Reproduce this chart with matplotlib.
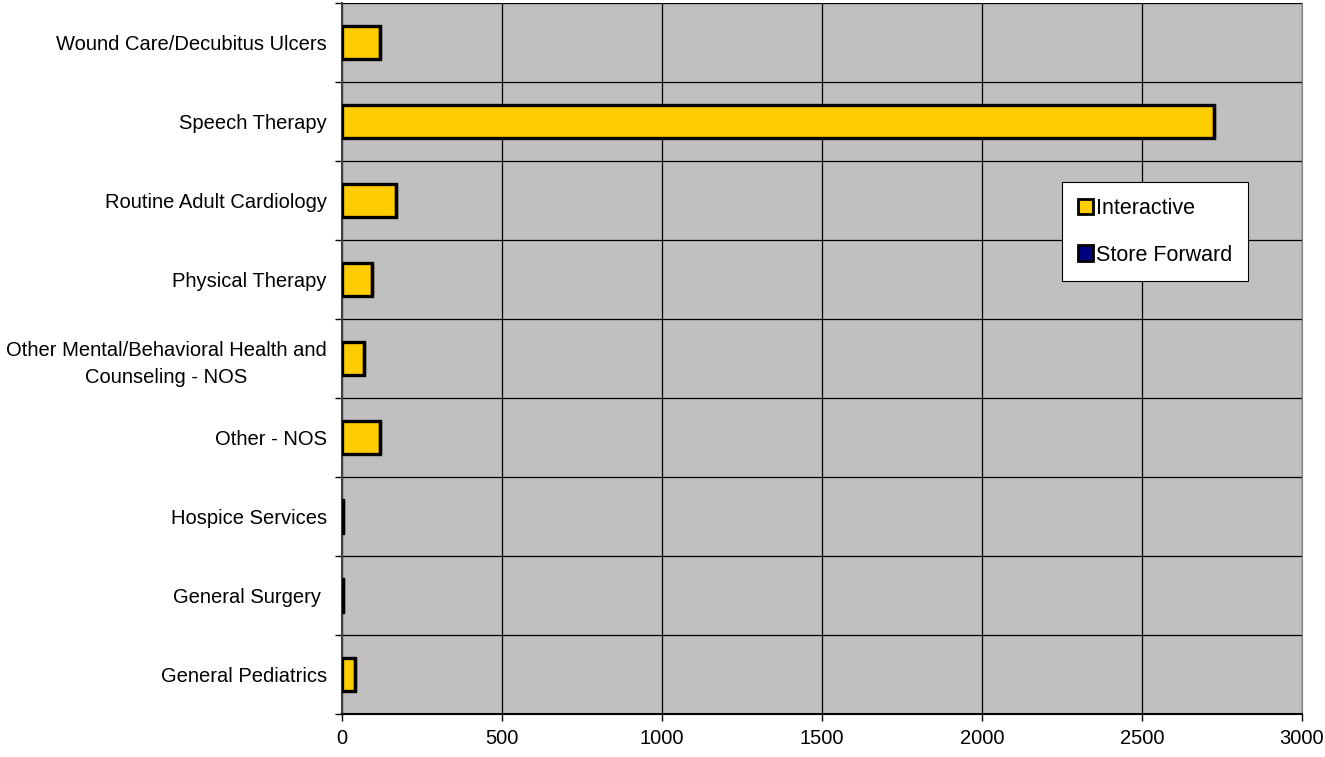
import matplotlib.pyplot as plt
import numpy as np

plt.rcParams['font.family'] = ['Liberation Sans', 'DejaVu Sans']

# categories listed bottom to top
categories = ['General Pediatrics', 'General Surgery ', 'Hospice Services', 'Other - NOS',
              'Other Mental/Behavioral Health and\nCounseling - NOS', 'Physical Therapy',
              'Routine Adult Cardiology', 'Speech Therapy', 'Wound Care/Decubitus Ulcers']
interactive = [40, 3, 4, 120, 70, 95, 170, 2725, 120]
store_forward = [0, 0, 0, 0, 0, 0, 0, 0, 0]
xticks = [0, 500, 1000, 1500, 2000, 2500, 3000]

fig = plt.figure(figsize=(13.25, 7.57), dpi=100)
ax = fig.add_axes([342/1325, 1-714/757, 960/1325, 711/757])
ax.set_facecolor('#C0C0C0')

y = np.arange(len(categories))
ax.barh(y, interactive, height=0.41, color='#FFCC00', edgecolor='black', linewidth=2.4,
        label='Interactive', zorder=3)
ax.barh(y, store_forward, left=interactive, height=0.41, color='#000080', edgecolor='black',
        linewidth=2.4, label='Store Forward', zorder=3)

ax.set_xlim(0, 3000)
ax.set_ylim(-0.5, len(categories)-0.5)
ax.set_xticks(xticks)
ax.set_yticks(y)
ax.set_yticklabels(categories, multialignment='center', linespacing=1.5)
ax.set_yticks(np.arange(len(categories)+1)-0.5, minor=True)

ax.tick_params(axis='x', direction='out', length=5, width=1, pad=6, labelsize=14.5)
ax.tick_params(axis='y', which='major', length=0, pad=11, labelsize=14.5)
ax.tick_params(axis='y', which='minor', direction='out', length=5, width=1)

ax.grid(axis='x', which='major', color='black', linewidth=0.9, zorder=1)
ax.grid(axis='y', which='minor', color='black', linewidth=0.9, zorder=1)
ax.set_axisbelow(True)

ax.spines['top'].set_visible(False)
ax.spines['right'].set_color('#808080')
ax.spines['left'].set_color('#404040')
ax.spines['left'].set_linewidth(1.5)
ax.spines['bottom'].set_linewidth(1.5)

leg = ax.legend(loc='upper left', bbox_to_anchor=(0.75, 0.748), borderaxespad=0,
                fontsize=15.5, fancybox=False, framealpha=1, edgecolor='black',
                handlelength=0.7, handleheight=0.7, handletextpad=0.15, labelspacing=1.2,
                borderpad=0.72)
leg.get_frame().set_linewidth(0.8)
for h in leg.legend_handles:
    h.set_linewidth(2)

plt.savefig('out.png', dpi=100)
